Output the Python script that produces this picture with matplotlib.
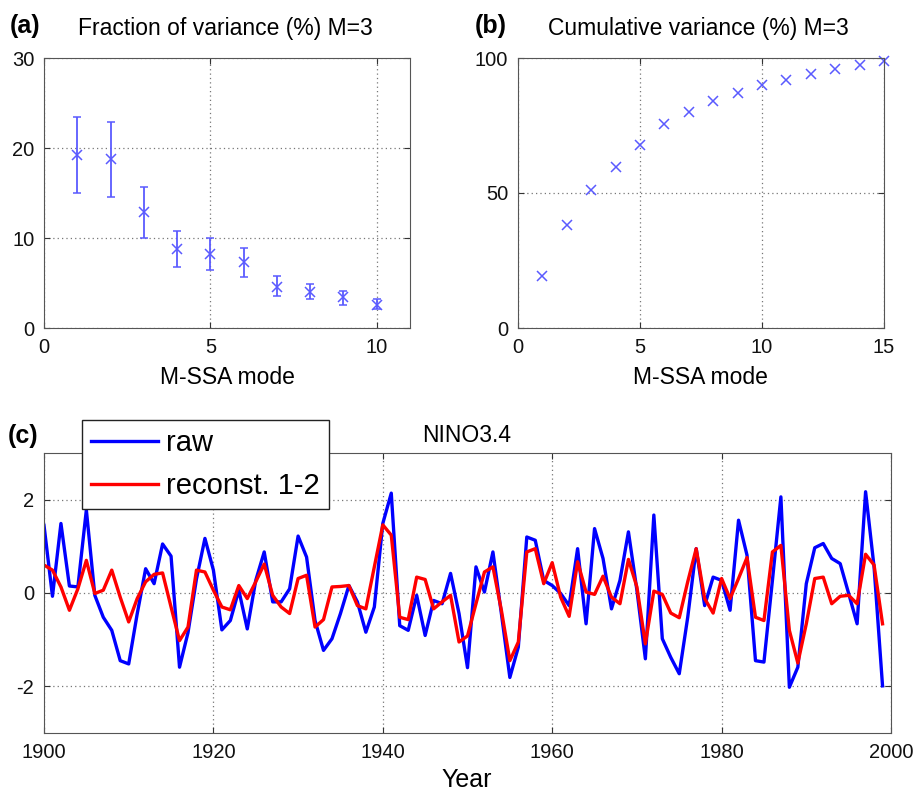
import numpy as np
import matplotlib
matplotlib.use("Agg")
import matplotlib.pyplot as plt

plt.rcParams['font.family'] = ['Liberation Sans', 'DejaVu Sans']
plt.rcParams['axes.unicode_minus'] = False

# (a) fraction of variance per M-SSA mode, with error bars
modes_a = [1, 2, 3, 4, 5, 6, 7, 8, 9, 10]
frac_var = [19.2, 18.8, 12.9, 8.8, 8.2, 7.3, 4.6, 4.0, 3.4, 2.6]
frac_lo = [15.0, 14.6, 10.0, 6.8, 6.4, 5.7, 3.6, 3.2, 2.6, 2.15]
frac_hi = [23.5, 22.9, 15.7, 10.8, 10.0, 8.9, 5.75, 4.85, 4.1, 3.2]

# (b) cumulative variance
modes_b = list(range(1, 16))
cum_var = [19.4, 38.0, 51.1, 59.8, 67.8, 75.4, 79.9, 83.9, 87.2, 89.9,
           92.0, 94.0, 95.8, 97.4, 98.9]

# (c) NINO3.4 annual index 1900-1999
years = list(range(1900, 2000))
raw = [1.45, -0.07, 1.49, 0.15, 0.13, 1.78, -0.05, -0.52, -0.80, -1.45,
       -1.52, -0.45, 0.52, 0.20, 1.05, 0.79, -1.59, -0.85, 0.30, 1.17,
       0.49, -0.79, -0.59, 0.06, -0.77, 0.27, 0.88, -0.19, -0.19, 0.09,
       1.22, 0.77, -0.59, -1.23, -0.98, -0.44, 0.16, -0.19, -0.84, -0.30,
       1.49, 2.14, -0.70, -0.80, -0.05, -0.91, -0.16, -0.23, 0.42, -0.44,
       -1.60, 0.56, 0.02, 0.88, -0.44, -1.81, -1.16, 1.20, 1.13, 0.27,
       0.16, -0.01, -0.27, 0.95, -0.66, 1.38, 0.74, -0.34, 0.27, 1.31,
       0.06, -1.41, 1.67, -0.98, -1.38, -1.73, -0.52, 0.95, -0.27, 0.34,
       0.27, -0.37, 1.56, 0.81, -1.45, -1.48, 0.27, 2.06, -2.02, -1.59,
       0.20, 0.97, 1.06, 0.74, 0.63, -0.01, -0.66, 2.17, 0.56, -1.99]
recon = [0.60, 0.49, 0.13, -0.37, 0.09, 0.70, -0.01, 0.06, 0.49, -0.09,
         -0.62, -0.12, 0.24, 0.40, 0.43, -0.30, -1.02, -0.73, 0.49, 0.45,
         0.06, -0.30, -0.36, 0.16, -0.12, 0.24, 0.62, -0.05, -0.30, -0.44,
         0.31, 0.38, -0.73, -0.57, 0.13, 0.14, 0.16, -0.27, -0.34, 0.56,
         1.46, 1.24, -0.52, -0.57, 0.34, 0.29, -0.34, -0.19, -0.05, -1.05,
         -0.92, -0.23, 0.45, 0.56, -0.37, -1.45, -1.05, 0.88, 0.95, 0.20,
         0.65, -0.09, -0.50, 0.67, 0.02, -0.03, 0.36, -0.09, -0.23, 0.72,
         0.13, -1.09, 0.04, -0.03, -0.43, -0.53, 0.24, 0.95, -0.12, -0.43,
         0.31, -0.12, 0.31, 0.76, -0.52, -0.59, 0.88, 1.02, -0.80, -1.50,
         -0.66, 0.31, 0.34, -0.23, -0.07, -0.05, -0.23, 0.83, 0.60, -0.66]

W, H = 917, 797
fig = plt.figure(figsize=(W / 100, H / 100), dpi=100)


def px_axes(l, t, r, b):
    return fig.add_axes([l / W, 1 - b / H, (r - l) / W, (b - t) / H])


def style(ax):
    ax.tick_params(direction='in', top=True, right=True, labelsize=14.5,
                   colors='#333333', labelcolor='#111111', length=4, pad=7)
    for s in ax.spines.values():
        s.set_color('#555555')
    ax.grid(True, linestyle=(0, (1, 2.5)), color='#777777', linewidth=0.9)


mk_col = '#5a5aff'
title_fs = 16.5

# panel (a)
ax_a = px_axes(44, 58, 410, 328)
err = [np.array(frac_var) - np.array(frac_lo), np.array(frac_hi) - np.array(frac_var)]
ax_a.errorbar(modes_a, frac_var, yerr=err, fmt='x', color=mk_col, ms=7,
              mew=1.1, elinewidth=1.3, capsize=3, capthick=1.2)
ax_a.set_xlim(0, 11)
ax_a.set_ylim(0, 30)
ax_a.set_xticks([0, 5, 10])
ax_a.set_yticks([0, 10, 20, 30])
style(ax_a)
fig.text(10 / W, 1 - 26 / H, '(a)', fontsize=18, fontweight='bold', va='center')
fig.text(225 / W, 1 - 28 / H, 'Fraction of variance (%) M=3', fontsize=title_fs,
         ha='center', va='center')
fig.text(227 / W, 1 - 377 / H, 'M-SSA mode', fontsize=title_fs, ha='center', va='center')

# panel (b)
ax_b = px_axes(518, 58, 884, 328)
ax_b.plot(modes_b, cum_var, 'x', color=mk_col, ms=7, mew=1.1, clip_on=False)
ax_b.set_xlim(0, 15)
ax_b.set_ylim(0, 100)
ax_b.set_xticks([0, 5, 10, 15])
ax_b.set_yticks([0, 50, 100])
style(ax_b)
fig.text(475 / W, 1 - 26 / H, '(b)', fontsize=18, fontweight='bold', va='center')
fig.text(698 / W, 1 - 28 / H, 'Cumulative variance (%) M=3', fontsize=title_fs,
         ha='center', va='center')
fig.text(700 / W, 1 - 377 / H, 'M-SSA mode', fontsize=title_fs, ha='center', va='center')

# panel (c)
ax_c = px_axes(44, 453, 891, 733)
l1, = ax_c.plot(years, raw, color='#0000ff', lw=2.4)
l2, = ax_c.plot(years, recon, color='#ff0000', lw=2.4)
ax_c.set_xlim(1900, 2000)
ax_c.set_ylim(-3, 3)
ax_c.set_xticks(range(1900, 2001, 20))
ax_c.set_yticks([-2, 0, 2])
style(ax_c)
fig.text(8 / W, 1 - 436 / H, '(c)', fontsize=18, fontweight='bold', va='center')
fig.text(467 / W, 1 - 436 / H, 'NINO3.4', fontsize=title_fs, ha='center', va='center')
fig.text(467 / W, 1 - 780 / H, 'Year', fontsize=18, ha='center', va='center')

leg = fig.legend([l1, l2], ['raw', 'reconst. 1-2'], loc='upper left',
                 bbox_to_anchor=(82 / W, 1 - 420 / H), fontsize=21,
                 frameon=True, fancybox=False, edgecolor='#222222',
                 framealpha=1, handlelength=2.3, handletextpad=0.25,
                 labelspacing=0.5, borderpad=0.32, borderaxespad=0)
leg.get_frame().set_linewidth(1.0)

fig.savefig('out.png', dpi=100)
